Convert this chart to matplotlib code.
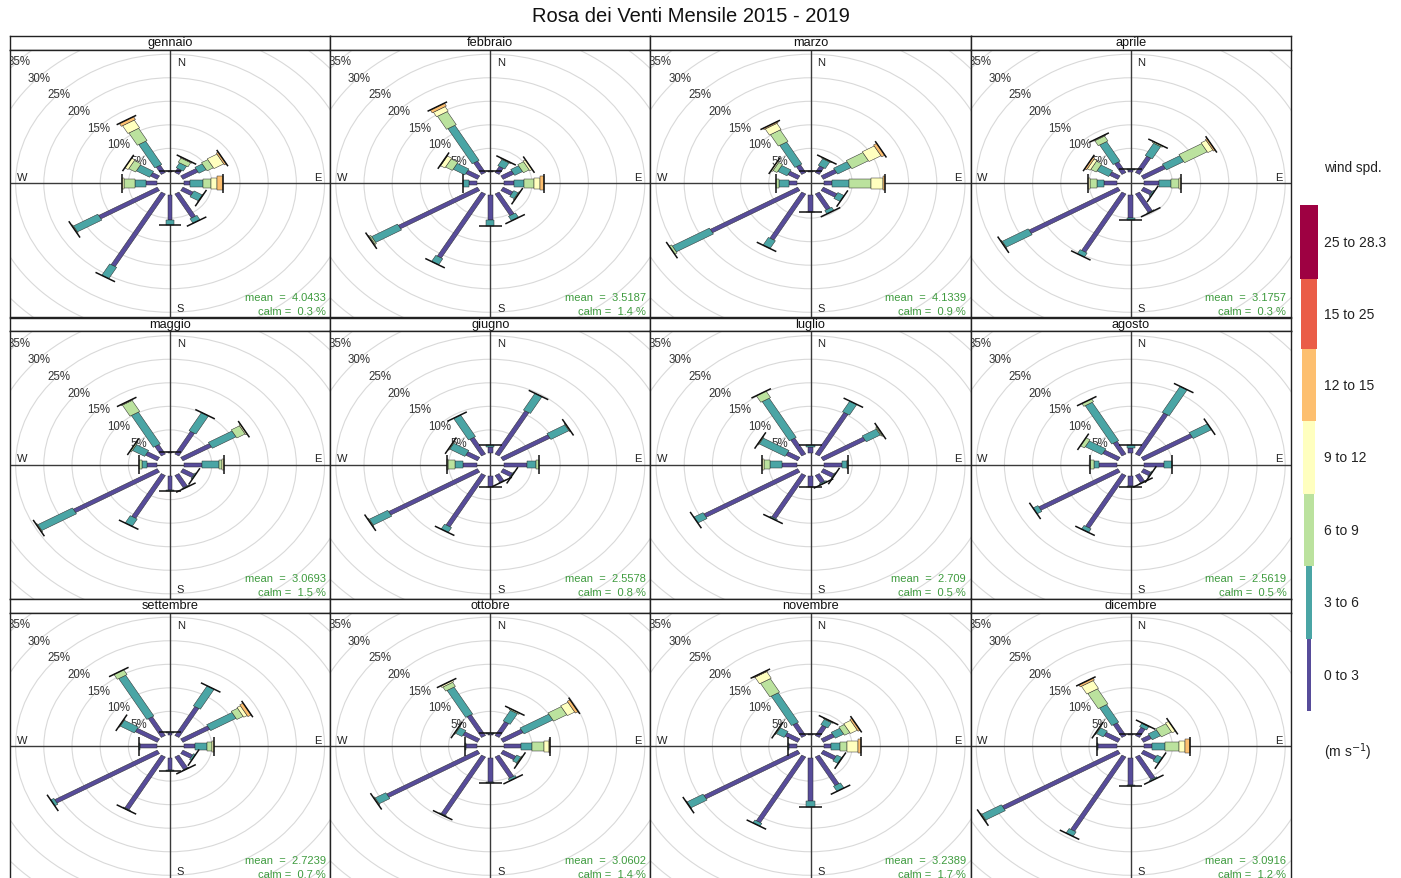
import numpy as np
import matplotlib
matplotlib.use("Agg")
import matplotlib.pyplot as plt
from matplotlib.patches import Polygon, Circle, Rectangle

plt.rcParams['font.family'] = ['Liberation Sans', 'DejaVu Sans']

# ---------------- data ----------------
directions = [0, 30, 60, 90, 120, 150, 180, 210, 240, 270, 300, 330]
speed_labels = ["0 to 3", "3 to 6", "6 to 9", "9 to 12", "12 to 15", "15 to 25", "25 to 28.3"]
speed_colors = ["#574C9A", "#4AA5A5", "#BBE29E", "#FFFFBF", "#FDBF6F", "#EA5D47", "#9E0142"]
month_names = ["gennaio", "febbraio", "marzo", "aprile", "maggio", "giugno",
               "luglio", "agosto", "settembre", "ottobre", "novembre", "dicembre"]
mean_speed = ["4.0433", "3.5187", "4.1339", "3.1757", "3.0693", "2.5578",
              "2.709", "2.5619", "2.7239", "3.0602", "3.2389", "3.0916"]
calm_pct = ["0.3", "1.4", "0.9", "0.3", "1.5", "0.8", "0.5", "0.5", "0.7", "1.4", "1.7", "1.2"]
ring_levels = [5, 10, 15, 20, 25, 30, 35]

# frequency (%) per speed class, one row per direction (0, 30, ..., 330 deg)
gennaio = [[0.2, 0.1], [1.0, 1.2, 1.0, 0.2], [3.1, 1.5, 1.3, 2.0, 0.4], [1.2, 2.2, 1.5, 1.1, 0.9],
           [2.1, 1.7, 0.1], [5.9, 1.1], [5.3, 1.2], [17.8, 2.8], [12.0, 5.0, 0.2],
           [1.8, 2.05, 1.95, 0.4], [1.4, 2.7, 1.4, 0.7], [1.8, 5.7, 3.0, 1.9, 0.7]]
febbraio = [[0.2, 0.1], [1.5, 1.5, 0.2], [2.2, 1.6, 1.2, 0.5], [1.8, 1.75, 1.75, 1.1, 0.7],
            [2.0, 0.9, 0.2], [5.3, 1.1], [5.5, 1.2], [15.7, 1.5], [16.2, 5.3, 0.3, 0.2],
            [1.4, 1.0], [2.4, 2.4, 1.4, 0.9, 0.1], [2.8, 8.6, 3.2, 1.1, 0.7]]
marzo = [[0.2, 0.1], [1.6, 1.6, 0.2], [2.75, 2.75, 3.4, 2.45, 0.65], [1.5, 2.95, 3.85, 2.1, 0.5],
         [2.8, 1.3], [3.9, 0.8], [3.6, 0.2], [11.3, 1.9], [17.9, 7.6, 0.5],
         [1.5, 1.75, 0.45], [2.0, 1.9, 0.8, 0.3], [1.9, 5.4, 2.8, 1.5, 0.3]]
aprile = [[0.4, 0.2], [4.0, 3.0, 0.3], [4.5, 3.55, 4.65, 1.05, 0.35], [2.66, 2.08, 1.5, 0.26],
          [1.8, 0.3], [4.5, 0.2], [5.0, 0.3], [14.3, 1.0], [18.2, 5.3, 0.2],
          [2.36, 1.19, 1.19, 0.46], [1.7, 2.4, 1.1, 0.6, 0.4], [2.6, 4.8, 1.2, 0.2]]
maggio = [[0.3, 0.1], [5.55, 4.45], [5.85, 4.85, 1.7, 0.3], [3.25, 2.98, 0.57, 0.44],
          [2.3, 0.25], [3.0, 0.2], [3.0, 0.1], [10.5, 1.8], [17.2, 7.1, 0.2],
          [1.77, 0.9, 0.43], [2.4, 2.5, 0.3], [2.3, 7.8, 2.7, 0.2]]
giugno = [[1.3, 0.5], [10.6, 4.1], [9.6, 3.7, 0.2], [4.15, 1.5, 0.55],
          [1.9, 0.2], [1.7, 0.1], [2.3, 0.1], [12.6, 1.2], [18.2, 3.8, 0.2],
          [2.36, 1.49, 1.19, 0.3], [2.4, 3.1, 0.2], [4.1, 5.3]]
luglio = [[1.3, 0.5], [10.2, 2.6], [8.6, 2.9, 0.2, 0.2], [3.25, 0.9, 0.1],
          [2.2, 0.2], [1.9, 0.3], [2.3, 0.1], [10.6, 0.3], [19.2, 1.9],
          [2.66, 2.08, 1.19, 0.3], [2.4, 5.3, 0.2], [3.9, 9.6, 1.6]]
agosto = [[1.2, 0.6], [10.05, 6.35], [10.0, 3.75], [3.55, 1.3],
          [1.5, 0.2], [1.8, 0.15], [2.2, 0.2], [12.9, 0.9], [16.2, 1.0],
          [3.25, 0.9, 0.6], [3.1, 3.4, 0.85], [3.1, 9.4, 0.7]]
settembre = [[0.5, 0.2], [7.1, 4.9], [5.5, 5.2, 1.3, 0.7, 0.7], [2.06, 2.09, 0.89, 0.3],
             [2.0, 0.4], [3.1, 0.15], [2.7, 0.15], [12.9, 0.2], [21.0, 0.65],
             [2.9, 0.2], [4.5, 2.9, 0.17], [4.6, 10.0, 1.2]]
ottobre = [[0.3, 0.2], [3.4, 2.6, 0.3], [4.1, 5.9, 2.7, 1.5, 0.6], [2.96, 2.08, 2.08, 0.88, 0.2],
           [2.6, 0.85, 0.2], [5.2, 0.5], [5.2, 0.13], [14.3, 0.2], [18.6, 2.2, 0.2],
           [1.9, 0.16], [3.0, 1.3, 0.2], [5.1, 6.6, 1.0, 0.4]]
novembre = [[0.1], [2.5, 1.3, 0.2], [2.27, 1.73, 1.1, 1.4, 0.44], [1.28, 1.47, 1.32, 1.99, 0.58],
            [2.6, 1.0, 0.1], [7.0, 1.25], [9.3, 1.1], [16.1, 0.7], [19.2, 3.3, 0.1],
            [1.4, 0.24], [2.6, 1.6, 0.2], [3.1, 7.2, 3.3, 1.6, 0.2]]
dicembre = [[0.1], [2.0, 0.8, 0.1], [1.6, 1.7, 2.1, 0.7], [1.4, 2.2, 2.6, 1.1, 0.74],
            [2.6, 1.1], [5.5, 0.3], [5.8, 0.2], [18.2, 1.1], [23.7, 4.0, 0.2],
            [3.4, 0.1], [2.8, 1.4, 0.2], [3.1, 4.3, 3.7, 1.9, 0.5]]

month_data = [gennaio, febbraio, marzo, aprile, maggio, giugno,
              luglio, agosto, settembre, ottobre, novembre, dicembre]

# ---------------- style / layout ----------------
W, H = 1401, 879
half_widths = [0.42, 0.72, 1.0, 1.2, 1.45, 1.7, 1.9]
cap_half = 2.0
offset = 2.4
lim = 28.4
col_x = [10, 330.2, 650.4, 970.6]
panel_w = 320.2
row_top = [37, 318.5, 600]
strip_h = 13.5
plot_h = 267.5
green_txt = "#3E9B3E"

fig = plt.figure(figsize=(W / 100, H / 100), dpi=100)


def px_axes(x, y, w, h):
    return fig.add_axes([x / W, 1 - (y + h) / H, w / W, h / H])


for i, (name, data) in enumerate(zip(month_names, month_data)):
    r, c = divmod(i, 4)
    x0 = col_x[c]
    y0 = row_top[r]
    # strip
    sax = px_axes(x0, y0, panel_w, strip_h)
    sax.set_xticks([]); sax.set_yticks([])
    sax.set_facecolor("white")
    for s in sax.spines.values():
        s.set_linewidth(1.0); s.set_color("#222222")
    sax.text(0.5, 0.52, name, ha="center", va="center", fontsize=9.2,
             transform=sax.transAxes, color="#111111")
    # panel
    ax = px_axes(x0, y0 + strip_h, panel_w, plot_h)
    ax.set_xlim(-lim, lim); ax.set_ylim(-lim, lim)
    ax.set_xticks([]); ax.set_yticks([])
    for s in ax.spines.values():
        s.set_linewidth(1.0); s.set_color("#222222")
    for v in ring_levels:
        ax.add_patch(Circle((0, 0), v + offset, fill=False, ec="#D9D9D9", lw=0.8, zorder=1))
    ax.axhline(0, color="#3A3A3A", lw=1.0, zorder=2)
    ax.axvline(0, color="#3A3A3A", lw=1.0, zorder=2)
    for v in ring_levels:
        rr = v + offset + 0.4
        ax.text(-rr * np.sin(np.pi / 4), rr * np.cos(np.pi / 4) - 0.8, f"{v}%", ha="center",
                va="center", fontsize=8.3, color="#333333", zorder=3, clip_on=True)
    ax.text(1.2, 25.8, "N", ha="left", va="center", fontsize=8, color="#222222", zorder=3)
    ax.text(1.2, -26.4, "S", ha="left", va="center", fontsize=8, color="#222222", zorder=3)
    ax.text(26.2, 1.4, "E", ha="center", va="center", fontsize=8, color="#222222", zorder=3)
    ax.text(-26.3, 1.4, "W", ha="center", va="center", fontsize=8, color="#222222", zorder=3)

    for d, freqs in zip(directions, data):
        th = np.deg2rad(d)
        u = np.array([np.sin(th), np.cos(th)])
        p = np.array([np.cos(th), -np.sin(th)])
        cum = offset
        for k, f in enumerate(freqs):
            r1, r2 = cum, cum + f
            w = half_widths[k]
            pts = [r1 * u + w * p, r2 * u + w * p, r2 * u - w * p, r1 * u - w * p]
            ax.add_patch(Polygon(pts, closed=True, fc=speed_colors[k], ec="#2A2A2A",
                                 lw=0.35, zorder=4))
            cum = r2
        a = cum * u + cap_half * p
        b = cum * u - cap_half * p
        ax.plot([a[0], b[0]], [a[1], b[1]], color="#111111", lw=1.1, zorder=5,
                solid_capstyle="butt")

    ax.text(27.6, -24.1, f"mean  =  {mean_speed[i]}", ha="right", va="center",
            fontsize=8, color=green_txt, zorder=6)
    ax.text(27.6, -27.1, f"calm =  {calm_pct[i]} %", ha="right", va="center",
            fontsize=8, color=green_txt, zorder=6)

# title
fig.text(691 / W, 1 - 17 / H, "Rosa dei Venti Mensile 2015 - 2019", ha="center",
         va="center", fontsize=14.5, color="#111111")

# legend (pixel coordinates)
lax = fig.add_axes([0, 0, 1, 1], facecolor="none")
lax.set_xlim(0, W); lax.set_ylim(H, 0); lax.axis("off")
edges = [712, 640, 567, 495, 422, 350, 280, 206]
leg_w = [3.5, 6.5, 10, 12.5, 14, 16, 17.5]
cx = 1309
for k in range(7):
    y_bot, y_top = edges[k], edges[k + 1]
    lax.add_patch(Rectangle((cx - leg_w[k] / 2, y_top), leg_w[k], y_bot - y_top,
                            fc=speed_colors[k], ec="none"))
    lax.text(1324, (y_top + y_bot) / 2, speed_labels[k], ha="left", va="center",
             fontsize=10, color="#222222")
lax.text(1353, 168, "wind spd.", ha="center", va="center", fontsize=9.8, color="#222222")
lax.text(1324, 752, r"(m s$^{-1}$)", ha="left", va="center", fontsize=10, color="#222222")

fig.savefig("out.png", dpi=100)
